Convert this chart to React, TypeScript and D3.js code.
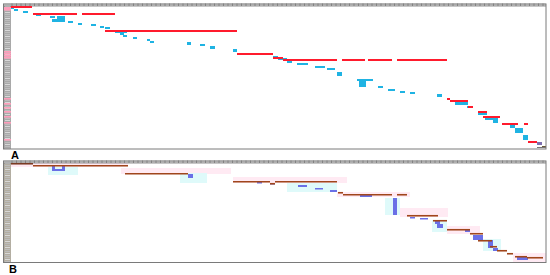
import * as React from "react"
import * as d3 from "d3"

// positions along the reference (kb), rows = contig order
// panel A: red reference hits [start, end, row]
const redA = [
  [0, 42, 0], [44, 132, 7], [142, 208, 7], [188, 452, 24], [452, 524, 47],
  [524, 544, 51], [544, 652, 53], [662, 708, 53], [714, 762, 53], [772, 872, 53],
  [872, 878, 92], [878, 914, 94], [914, 924, 100], [934, 952, 105], [944, 978, 110],
  [982, 1014, 117], [1026, 1034, 117], [1034, 1052, 135],
]
// panel A: cyan blocks [start, end, row, rows]
const cyanA = [
  [0, 6, 1, 2], [6, 14, 3, 2], [24, 34, 5, 2], [50, 60, 8, 2], [78, 88, 10, 2],
  [92, 108, 10, 6], [82, 96, 13, 3], [114, 124, 15, 2], [134, 142, 17, 2], [160, 170, 18, 2],
  [178, 186, 20, 2], [188, 198, 21, 2], [208, 232, 25, 2], [218, 226, 27, 2], [224, 232, 29, 2],
  [244, 252, 31, 2], [272, 278, 33, 2], [278, 286, 35, 2], [352, 360, 36, 3], [378, 388, 38, 2],
  [398, 408, 40, 3], [444, 452, 43, 3], [498, 514, 47, 2], [524, 534, 50, 2], [534, 552, 52, 2],
  [552, 562, 55, 2], [572, 594, 57, 2], [608, 628, 60, 2], [632, 648, 62, 2], [652, 662, 66, 4],
  [692, 724, 73, 2], [696, 710, 75, 6], [734, 744, 80, 2], [754, 768, 83, 2], [778, 788, 85, 2],
  [798, 808, 86, 2], [852, 862, 88, 3], [888, 914, 95, 4], [912, 922, 100, 2], [934, 952, 105, 4],
  [948, 968, 110, 4], [964, 974, 112, 5], [998, 1008, 119, 3], [1008, 1024, 122, 5], [1024, 1034, 129, 5],
]
// last contigs drawn darker
const tailA = [[1052, 1062, 136, 3, "#7d6fb0"], [1062, 1070, 140, 2, "#6b5a3a"], [1052, 1070, 141, 1, "#777"]]
const pinkRowsA = [1, 2, 3, 45, 47, 49, 51, 92, 97, 101, 105, 110, 116, 133]

// panel B: merged hits [start, end, row]
const brownB = [
  [0, 44, 0], [44, 234, 2], [228, 354, 10], [444, 518, 18], [518, 528, 20],
  [528, 652, 18], [654, 664, 29], [664, 762, 31], [772, 792, 31], [792, 854, 52],
  [844, 872, 57], [872, 918, 66], [918, 944, 70], [934, 962, 77], [958, 972, 83],
  [972, 992, 87], [992, 1004, 90], [1008, 1032, 93], [1032, 1064, 94],
]
// panel B: blue blocks [start, end, row, rows]
const blueB = [
  [82, 88, 3, 5], [82, 108, 6, 2], [102, 108, 3, 5], [354, 364, 11, 4], [492, 502, 19, 1.5],
  [518, 528, 20, 1.5], [574, 592, 22, 2], [608, 624, 25, 1.5], [638, 652, 27, 2], [698, 722, 31, 3],
  [764, 772, 35, 17], [798, 808, 54, 1.5], [818, 834, 55, 1.5], [848, 858, 57, 4], [852, 864, 61, 4],
  [908, 918, 67, 2], [924, 944, 72, 5], [954, 964, 77, 8], [964, 974, 85, 3], [1012, 1034, 94, 3],
]
// panel B: shaded coverage [start, end, row, rows]
const cyanBandB = [
  [74, 134, 4, 8], [338, 392, 10, 10], [552, 652, 20, 9], [748, 778, 35, 17],
  [842, 872, 57, 12], [944, 980, 76, 12],
]
const pinkBandB = [
  [0, 234, 0, 4], [220, 440, 5, 6], [444, 672, 14, 6], [652, 798, 29, 5],
  [778, 874, 45, 9], [872, 938, 63, 8], [1004, 1070, 90, 9],
]

const W = 550
const H = 275
const genome = 1070

function Strip({ y0, y1, pink, tone }) {
  const rows = d3.range(y0, y1, 2)
  return (
    <g>
      <rect x={4} y={y0} width={7} height={y1 - y0} fill={tone} />
      {rows.map((r, i) => (
        <rect key={i} x={5} y={r} width={5} height={1} fill={i % 3 === 0 ? "#d8d8d8" : "#bdbdbd"} />
      ))}
      {pink.map((p, i) => (
        <rect key={"p" + i} x={4} y={p} width={7} height={1.6} fill="#ff9dbb" />
      ))}
    </g>
  )
}

function TopTicks({ y }) {
  const ticks = d3.range(12, 546, 4.5)
  return (
    <g>
      <rect x={3} y={y} width={543} height={2.5} fill="#d6d6d6" />
      {ticks.map((t, i) => (
        <line key={i} x1={t} x2={t} y1={y} y2={y + 2.5} stroke="#8a8a8a" strokeWidth={1} />
      ))}
      <line x1={3} x2={546} y1={y + 2.5} y2={y + 2.5} stroke="#777" strokeWidth={0.8} />
    </g>
  )
}

export default function App() {
  const x = d3.scaleLinear().domain([0, genome]).range([11, 546])
  const yA = d3.scaleLinear().domain([0, 143]).range([6, 149])
  const yB = d3.scaleLinear().domain([0, 99]).range([163, 262])

  return (
    <svg width={W} height={H} style={{ position: "absolute", left: 0, top: 0, background: "#fff" }}>
      {/* panel A */}
      <Strip y0={6} y1={149} pink={pinkRowsA.map((r) => yA(r))} tone="#a9a9a9" />
      <TopTicks y={3.5} />
      {cyanA.map((d, i) => (
        <rect key={"c" + i} x={x(d[0])} y={yA(d[2])} width={x(d[1]) - x(d[0])}
          height={yA(d[2] + d[3]) - yA(d[2])} fill="#1fb3e3" />
      ))}
      {tailA.map((d, i) => (
        <rect key={"t" + i} x={x(d[0])} y={yA(d[2])} width={x(d[1]) - x(d[0])}
          height={yA(d[2] + d[3]) - yA(d[2])} fill={d[4]} />
      ))}
      {redA.map((d, i) => (
        <line key={"r" + i} x1={x(d[0])} x2={x(d[1])} y1={yA(d[2]) + 1} y2={yA(d[2]) + 1}
          stroke="#ff1b2d" strokeWidth={2} />
      ))}
      <rect x={3.5} y={4} width={542.5} height={145} fill="none" stroke="#7a7a7a" strokeWidth={1} />
      <text x={11} y={159} fontFamily="Liberation Sans, Arial, sans-serif" fontWeight="bold" fontSize={11}>A</text>

      {/* panel B */}
      {pinkBandB.map((d, i) => (
        <rect key={"pb" + i} x={x(d[0])} y={yB(d[2])} width={x(d[1]) - x(d[0])}
          height={yB(d[2] + d[3]) - yB(d[2])} fill="#ffeaf3" />
      ))}
      {cyanBandB.map((d, i) => (
        <rect key={"cb" + i} x={x(d[0])} y={yB(d[2])} width={x(d[1]) - x(d[0])}
          height={yB(d[2] + d[3]) - yB(d[2])} fill="#dffafa" />
      ))}
      <Strip y0={163} y1={262} pink={[]} tone="#b3aea2" />
      <TopTicks y={160.5} />
      {blueB.map((d, i) => (
        <rect key={"b" + i} x={x(d[0])} y={yB(d[2])} width={x(d[1]) - x(d[0])}
          height={yB(d[2] + d[3]) - yB(d[2])} fill="#6a70e6" />
      ))}
      {brownB.map((d, i) => (
        <line key={"br" + i} x1={x(d[0])} x2={x(d[1])} y1={yB(d[2]) + 0.75} y2={yB(d[2]) + 0.75}
          stroke={i === 0 ? "#7a3a22" : "#a0461c"} strokeWidth={1.6} />
      ))}
      <rect x={3.5} y={161} width={542.5} height={101.5} fill="none" stroke="#7a7a7a" strokeWidth={1} />
      <text x={9} y={273} fontFamily="Liberation Sans, Arial, sans-serif" fontWeight="bold" fontSize={11}>B</text>
    </svg>
  )
}
